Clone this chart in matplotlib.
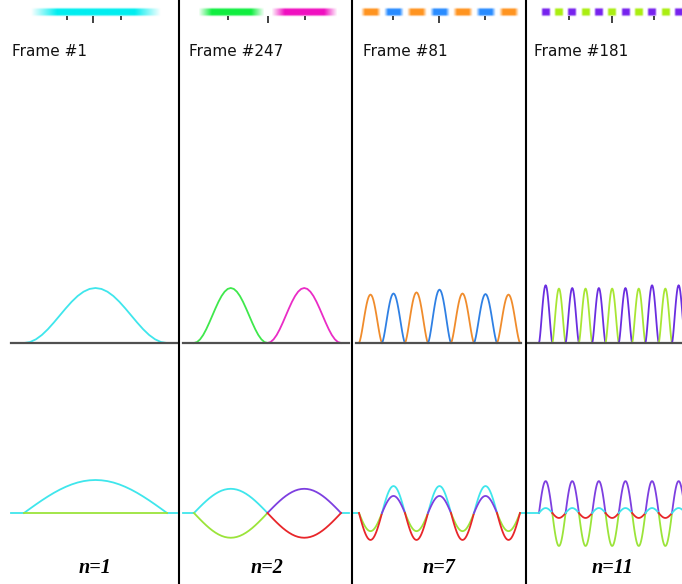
import numpy as np
import matplotlib.pyplot as plt
from matplotlib.lines import Line2D
from matplotlib.colors import to_rgb

W, H = 682, 584

frame_titles = ['Frame #1', 'Frame #247', 'Frame #81', 'Frame #181']
n_labels = ['n=1', 'n=2', 'n=7', 'n=11']

CYAN, LIME, PURPLE, RED = '#3fe6ec', '#9be43a', '#7d3fe0', '#e8262a'
ORANGE, BLUE = '#f08c2c', '#2f80e4'
VIOLET, YGREEN = '#6a2ee0', '#a8e634'

# lobe shapes: half wave, its square (density),
# and the peaked lobes of the coarse panels
HALF_SINE = [0, .131, .259, .383, .5, .609, .707, .793, .866, .924, .966, .991, 1,
             .991, .966, .924, .866, .793, .707, .609, .5, .383, .259, .131, 0]
DENSITY = [0, .017, .067, .146, .25, .371, .5, .629, .75, .854, .933, .983, 1,
           .983, .933, .854, .75, .629, .5, .371, .25, .146, .067, .017, 0]
PEAKED = [0, .047, .132, .237, .354, .475, .595, .706, .806, .888, .949, .987, 1,
          .987, .949, .888, .806, .706, .595, .475, .354, .237, .132, .047, 0]
dens_shape = ['density', 'density', 'peaked', 'peaked']

# upper row: density of each site
dens_colors = [
    [CYAN],
    ['#3fe84c', '#ea2cc6'],
    [ORANGE, BLUE, ORANGE, BLUE, ORANGE, BLUE, ORANGE],
    [VIOLET, YGREEN] * 5 + [VIOLET],
]
dens_heights = [
    [1.0],
    [1.0, 1.0],
    [0.88, 0.90, 0.92, 0.97, 0.90, 0.89, 0.88],
    [1.05, 0.99, 1.0, 0.99, 1.0, 0.99, 1.0, 0.99, 1.05, 0.99, 1.05],
]

# lower row: two wave components per site (signed amplitude)
wave1_colors = [
    [CYAN],
    [CYAN, PURPLE],
    [LIME, CYAN, LIME, CYAN, LIME, CYAN, LIME],
    [PURPLE, LIME] * 5 + [PURPLE],
]
wave1_amps = [
    [0.60],
    [0.44, 0.44],
    [-0.33, 0.49, -0.33, 0.49, -0.33, 0.49, -0.33],
    [0.58, -0.60, 0.58, -0.60, 0.58, -0.60, 0.58, -0.60, 0.58, -0.60, 0.58],
]
wave2_colors = [
    [LIME],
    [LIME, RED],
    [RED, PURPLE, RED, PURPLE, RED, PURPLE, RED],
    [CYAN, RED] * 5 + [CYAN],
]
wave2_amps = [
    [0.0],
    [-0.45, -0.45],
    [-0.49, 0.31, -0.49, 0.31, -0.49, 0.31, -0.49],
    [0.09, -0.09, 0.09, -0.09, 0.09, -0.09, 0.09, -0.09, 0.09, -0.09, 0.09],
]

# colour strip at the top
bar_colors = [
    ['#00eef0'],
    ['#10ee40', '#f010c0'],
    ['#ff9420', '#2a8cff'] * 3 + ['#ff9420'],
    ['#7722ee', '#aaee11'] * 5 + ['#7722ee'],
]
bar_ticks = [[0.3, 0.48, 0.68], [0.46, 1.0, 1.51], [1.48, 3.48, 5.48], [2.26, 5.5, 8.65]]

# layout (pixels)
panel_x = [(0, 178), (178, 352), (352, 526), (526, 700)]
site_left = [24, 194, 359, 539]
site_w = [143, 73.5, 23, 13.3]
base_span = [(11, 177), (183, 349), (356, 521), (528, 700)]
flat_span = [(11, 177), (183, 349), (351, 527), (528, 700)]
bar_frac = [0.92, 0.9, 0.85, 0.72]
title_x = [12, 189, 363, 534]

fig = plt.figure(figsize=(W / 100, H / 100), dpi=100)


def add_ax(x0, x1, y0, y1):
    ax = fig.add_axes([x0 / W, 1 - y1 / H, (x1 - x0) / W, (y1 - y0) / H])
    ax.set_axis_off()
    return ax


def bar_image(color, nx=60, ny=14):
    u = np.linspace(-1, 1, nx)
    v = np.linspace(-1, 1, ny)
    a = np.clip((1 - np.abs(u)) / 0.4, 0, 1)[None, :] * np.clip((1 - np.abs(v)) / 0.45, 0, 1)[:, None]
    img = np.zeros((ny, nx, 4))
    img[..., :3] = to_rgb(color)
    img[..., 3] = a
    return img


xs = np.linspace(0, 1, len(HALF_SINE))
hs = np.array(HALF_SINE)
shapes = {'density': np.array(DENSITY), 'peaked': np.array(PEAKED)}
UNIT = 55.0

for i in range(4):
    px0, px1 = panel_x[i]
    L, w = site_left[i], site_w[i]
    xl = ((px0 - L) / w, (px1 - L) / w)
    nsites = len(dens_heights[i])
    prof = shapes[dens_shape[i]]

    # colour strip
    axb = add_ax(px0, px1, 0, 30)
    bf = bar_frac[i]
    for k, c in enumerate(bar_colors[i]):
        axb.imshow(bar_image(c), extent=(k + 0.5 - bf / 2, k + 0.5 + bf / 2, 17.5, 7.5),
                   aspect='auto', interpolation='bilinear')
    axb.vlines(bar_ticks[i], 16, [19.5, 23, 19.5], color='#333333', lw=1.3)
    axb.set_xlim(xl)
    axb.set_ylim(30, 0)

    # density row
    axt = add_ax(px0, px1, 230, 360)
    axt.plot([(base_span[i][0] - L) / w, (base_span[i][1] - L) / w], [0, 0],
             color='#505050', lw=1.6, zorder=3)
    for k in range(nsites):
        axt.plot(k + xs, dens_heights[i][k] * prof, color=dens_colors[i][k], lw=1.3)
    axt.set_xlim(xl)
    axt.set_ylim((343 - 360) / UNIT, (343 - 230) / UNIT)

    # wave row
    axw = add_ax(px0, px1, 450, 584)
    fl0, fl1 = flat_span[i]
    axw.plot([(fl0 - L) / w, 0], [0, 0], color=CYAN, lw=1.3)
    axw.plot([nsites, (fl1 - L) / w], [0, 0], color=CYAN, lw=1.3)
    for k in range(nsites):
        axw.plot(k + xs, wave1_amps[i][k] * hs, color=wave1_colors[i][k], lw=1.3)
        axw.plot(k + xs, wave2_amps[i][k] * hs, color=wave2_colors[i][k], lw=1.3)
    axw.text(nsites / 2, (513 - 568) / UNIT, n_labels[i], ha='center', va='center',
             family='Liberation Serif', weight='bold', style='italic', fontsize=14.5)
    axw.set_xlim(xl)
    axw.set_ylim((513 - 584) / UNIT, (513 - 450) / UNIT)

    fig.text(title_x[i] / W, 1 - 52 / H, frame_titles[i], ha='left', va='center',
             family='DejaVu Sans', fontsize=11, color='#111111')

for xd in [178.5, 352, 525.5]:
    fig.add_artist(Line2D([xd / W, xd / W], [0, 1], transform=fig.transFigure,
                          color='black', lw=1.5))

fig.savefig('out.png', dpi=100)
